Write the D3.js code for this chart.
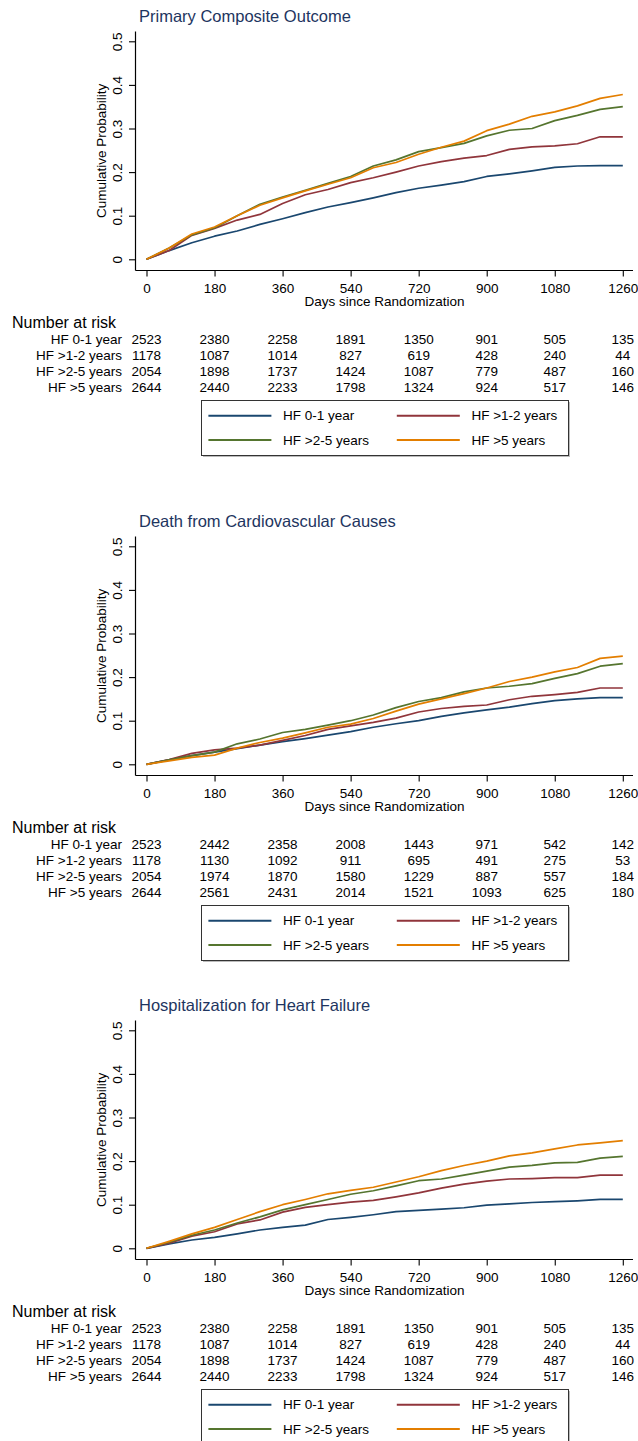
<!DOCTYPE html>
<html>
<head>
<meta charset="utf-8">
<script src="https://cdn.jsdelivr.net/npm/d3@7"></script>
<style>
  html, body { margin: 0; padding: 0; background: #fff; }
  svg text { font-family: "Liberation Sans", Arial, Helvetica, sans-serif; }
</style>
</head>
<body>
<svg id="chart" width="638" height="1441"></svg>
<script>
// ---------------- DATA ----------------
const days = [0,60,120,180,240,300,360,420,480,540,600,660,720,780,840,900,960,1020,1080,1140,1200,1260];
const groups = ["HF 0-1 year", "HF >1-2 years", "HF >2-5 years", "HF >5 years"];
const xTicks = [0,180,360,540,720,900,1080,1260];
const yTicks = [0,0.1,0.2,0.3,0.4,0.5];
const yTickLabels = ["0","0.1","0.2","0.3","0.4","0.5"];
const panelTitles = ["Primary Composite Outcome", "Death from Cardiovascular Causes", "Hospitalization for Heart Failure"];

// Primary composite outcome
const pcoHF01 = [0,0.02,0.038,0.053,0.065,0.08,0.093,0.107,0.12,0.13,0.141,0.153,0.163,0.170,0.178,0.19,0.196,0.203,0.211,0.214,0.215,0.215];
const pcoHF12 = [0,0.02,0.055,0.071,0.09,0.103,0.128,0.148,0.16,0.176,0.187,0.2,0.214,0.224,0.232,0.238,0.252,0.258,0.26,0.265,0.281,0.281];
const pcoHF25 = [0,0.026,0.056,0.072,0.1,0.126,0.143,0.158,0.174,0.19,0.214,0.228,0.247,0.256,0.266,0.283,0.296,0.300,0.318,0.33,0.344,0.35];
const pcoHF5  = [0,0.026,0.058,0.074,0.1,0.124,0.141,0.157,0.172,0.187,0.21,0.222,0.241,0.257,0.271,0.295,0.31,0.328,0.338,0.352,0.369,0.378];

// Death from cardiovascular causes
const cvdHF01 = [0,0.01,0.02,0.028,0.036,0.044,0.052,0.059,0.067,0.075,0.085,0.093,0.1,0.11,0.118,0.125,0.131,0.139,0.146,0.15,0.153,0.153];
const cvdHF12 = [0,0.011,0.025,0.033,0.037,0.044,0.055,0.066,0.08,0.088,0.096,0.106,0.12,0.128,0.133,0.136,0.148,0.156,0.16,0.165,0.175,0.175];
const cvdHF25 = [0,0.01,0.02,0.028,0.047,0.058,0.073,0.08,0.09,0.1,0.113,0.13,0.144,0.153,0.166,0.175,0.179,0.185,0.197,0.208,0.225,0.231];
const cvdHF5  = [0,0.008,0.016,0.021,0.037,0.05,0.06,0.072,0.085,0.092,0.105,0.122,0.138,0.15,0.162,0.175,0.19,0.2,0.212,0.222,0.243,0.248];

// Hospitalization for heart failure
const hfhHF01 = [0,0.01,0.019,0.025,0.033,0.042,0.048,0.053,0.066,0.071,0.077,0.084,0.087,0.09,0.093,0.099,0.102,0.105,0.107,0.109,0.112,0.112];
const hfhHF12 = [0,0.012,0.028,0.038,0.056,0.065,0.083,0.094,0.1,0.106,0.11,0.118,0.127,0.138,0.147,0.154,0.159,0.16,0.162,0.162,0.168,0.168];
const hfhHF25 = [0,0.014,0.03,0.042,0.058,0.072,0.088,0.1,0.112,0.124,0.132,0.143,0.155,0.159,0.168,0.177,0.186,0.19,0.196,0.197,0.207,0.211];
const hfhHF5  = [0,0.016,0.033,0.048,0.066,0.084,0.1,0.112,0.125,0.133,0.14,0.152,0.164,0.178,0.19,0.2,0.212,0.219,0.228,0.237,0.242,0.247];

// Number at risk (columns at xTicks)
const riskPco = [
  [2523,2380,2258,1891,1350,901,505,135],
  [1178,1087,1014,827,619,428,240,44],
  [2054,1898,1737,1424,1087,779,487,160],
  [2644,2440,2233,1798,1324,924,517,146]
];
const riskCvd = [
  [2523,2442,2358,2008,1443,971,542,142],
  [1178,1130,1092,911,695,491,275,53],
  [2054,1974,1870,1580,1229,887,557,184],
  [2644,2561,2431,2014,1521,1093,625,180]
];
const riskHfh = [
  [2523,2380,2258,1891,1350,901,505,135],
  [1178,1087,1014,827,619,428,240,44],
  [2054,1898,1737,1424,1087,779,487,160],
  [2644,2440,2233,1798,1324,924,517,146]
];

// ---------------- STYLE ----------------
const colors = ["#1a476f", "#90353b", "#55752f", "#e37e00"];
const panelOffsets = [0, 505, 989];
const panels = [
  { title: panelTitles[0], series: [pcoHF01, pcoHF12, pcoHF25, pcoHF5], risk: riskPco },
  { title: panelTitles[1], series: [cvdHF01, cvdHF12, cvdHF25, cvdHF5], risk: riskCvd },
  { title: panelTitles[2], series: [hfhHF01, hfhHF12, hfhHF25, hfhHF5], risk: riskHfh }
];

const svg = d3.select("#chart");
const x = d3.scaleLinear().domain([0, 1260]).range([146.5, 622.8]);
const y = d3.scaleLinear().domain([0, 0.5]).range([259.3, 41.3]);
const axisX0 = 135.5, axisX1 = 633, axisYBottom = 270.5, axisYTop = 31.5;
const fs = 13.5;

panels.forEach((p, pi) => {
  const g = svg.append("g").attr("transform", `translate(0,${panelOffsets[pi]})`);

  // title
  g.append("text").attr("x", 139).attr("y", 22)
    .attr("font-size", 16.5).attr("fill", "#1e3560").text(p.title);

  // axis lines
  g.append("line").attr("x1", axisX0).attr("x2", axisX0).attr("y1", axisYTop).attr("y2", axisYBottom)
    .attr("stroke", "#000").attr("stroke-width", 1.2);
  g.append("line").attr("x1", axisX0).attr("x2", axisX1).attr("y1", axisYBottom).attr("y2", axisYBottom)
    .attr("stroke", "#000").attr("stroke-width", 1.2);

  // x axis
  const gx = g.append("g").attr("transform", `translate(0,${axisYBottom})`)
    .call(d3.axisBottom(x).tickValues(xTicks).tickSize(6).tickPadding(4).tickFormat(d3.format("d")));
  gx.select(".domain").remove();
  gx.selectAll(".tick line").attr("stroke", "#000").attr("stroke-width", 1.1);
  gx.selectAll(".tick text").attr("font-size", fs).attr("fill", "#000")
    .attr("font-family", "Liberation Sans, Arial, sans-serif")
    .attr("y", 0).attr("dy", null).attr("transform", "translate(0,17.8)").attr("dominant-baseline", "central");

  // y axis
  const gy = g.append("g").attr("transform", `translate(${axisX0},0)`)
    .call(d3.axisLeft(y).tickValues(yTicks).tickSize(6.5).tickFormat((d, i) => yTickLabels[i]));
  gy.select(".domain").remove();
  gy.selectAll(".tick line").attr("stroke", "#000").attr("stroke-width", 1.1);
  gy.selectAll(".tick text").attr("font-size", fs).attr("fill", "#000")
    .attr("font-family", "Liberation Sans, Arial, sans-serif")
    .attr("x", 0).attr("dy", null).attr("text-anchor", "middle").attr("dominant-baseline", "central")
    .attr("transform", "translate(-18.5,0) rotate(-90)");

  // axis titles
  g.append("text").attr("transform", "translate(101.7,150.8) rotate(-90)")
    .attr("text-anchor", "middle").attr("dominant-baseline", "central")
    .attr("font-size", fs).attr("fill", "#000").text("Cumulative Probability");
  g.append("text").attr("x", 384.5).attr("y", 301.7)
    .attr("text-anchor", "middle").attr("dominant-baseline", "central")
    .attr("font-size", fs).attr("fill", "#000").text("Days since Randomization");

  // curves
  const line = d3.line().x(d => x(d[0])).y(d => y(d[1])).curve(d3.curveLinear);
  p.series.forEach((vals, si) => {
    const pts = days.map((dd, k) => [dd, vals[k]]);
    g.append("path").datum(pts).attr("d", line)
      .attr("fill", "none").attr("stroke", colors[si]).attr("stroke-width", 1.7)
      .attr("stroke-linejoin", "round");
  });

  // number at risk
  g.append("text").attr("x", 12).attr("y", 322).attr("dominant-baseline", "central")
    .attr("font-size", 16).attr("fill", "#000").text("Number at risk");
  const rowY = [339.8, 355.6, 371.2, 387];
  groups.forEach((gn, ri) => {
    g.append("text").attr("x", 122).attr("y", rowY[ri]).attr("text-anchor", "end")
      .attr("dominant-baseline", "central").attr("font-size", fs).attr("fill", "#000").text(gn);
    p.risk[ri].forEach((v, ci) => {
      g.append("text").attr("x", x(xTicks[ci])).attr("y", rowY[ri]).attr("text-anchor", "middle")
        .attr("dominant-baseline", "central").attr("font-size", fs).attr("fill", "#000").text(v);
    });
  });

  // legend
  const lg = g.append("g");
  lg.append("rect").attr("x", 203).attr("y", 402).attr("width", 367).attr("height", 55)
    .attr("fill", "#bbb");
  lg.append("rect").attr("x", 201.5).attr("y", 400.5).attr("width", 367).attr("height", 55)
    .attr("fill", "#fff").attr("stroke", "#333").attr("stroke-width", 1);
  const legPos = [[208.4, 415.7], [396.8, 415.7], [208.4, 440], [396.8, 440]];
  groups.forEach((gn, li) => {
    const [lx, ly] = legPos[li];
    lg.append("line").attr("x1", lx).attr("x2", lx + 63).attr("y1", ly).attr("y2", ly)
      .attr("stroke", colors[li]).attr("stroke-width", 2);
    lg.append("text").attr("x", lx + 74.6).attr("y", ly).attr("dominant-baseline", "central")
      .attr("font-size", fs).attr("fill", "#000").text(gn);
  });
});
</script>
</body>
</html>
